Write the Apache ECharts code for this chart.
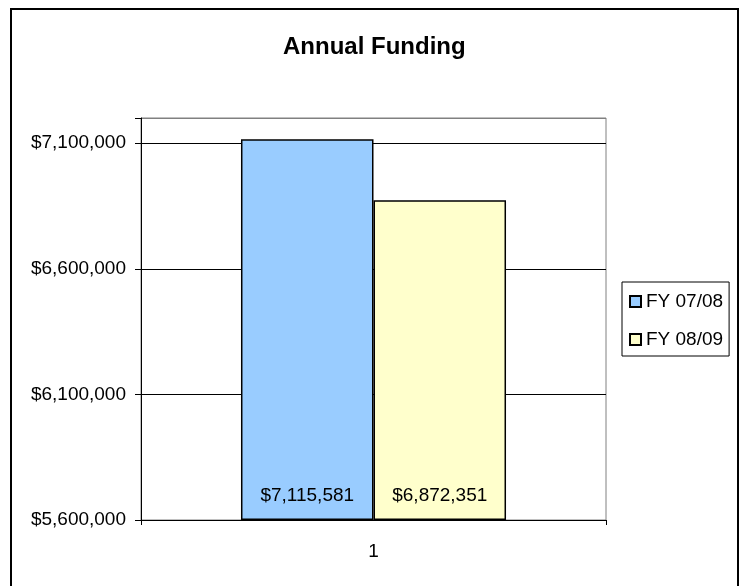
<!DOCTYPE html>
<html>
<head>
<meta charset="utf-8">
<script src="https://cdn.jsdelivr.net/npm/echarts@6/dist/echarts.min.js"></script>
<style>
html,body{margin:0;padding:0;background:#fff;}
#chart{width:742px;height:586px;}
</style>
</head>
<body>
<div id="chart"></div>
<script>
var titleText = 'Annual Funding';
var categories = ['1'];
var seriesNames = ['FY 07/08', 'FY 08/09'];
var fy0708 = [7115581];
var fy0809 = [6872351];
var yMin = 5600000;
var yMax = 7200000;
var yStep = 500000;

var FONT = '"Liberation Sans", Arial, sans-serif';
function money(v){ return '$' + Math.round(v).toLocaleString('en-US'); }

var chart = echarts.init(document.getElementById('chart'), null, {renderer:'canvas'});
chart.setOption({
  backgroundColor: '#ffffff',
  animation: false,
  title: {
    text: titleText,
    left: 283, top: 35, padding: 0,
    textStyle: {fontFamily: FONT, fontSize: 24, fontWeight: 'bold', color: '#000'}
  },
  graphic: [{
    type: 'rect',
    shape: {x: 11, y: 9, width: 727, height: 600},
    style: {fill: 'none', stroke: '#000', lineWidth: 2},
    silent: true
  }],
  legend: {
    orient: 'vertical',
    left: 622, top: 282,
    itemWidth: 11, itemHeight: 11, itemGap: 19,
    padding: [10, 6, 7, 7],
    borderColor: '#000', borderWidth: 1,
    icon: 'rect',
    data: seriesNames,
    textStyle: {fontFamily: FONT, fontSize: 19, color: '#000'}
  },
  grid: {
    left: 141, top: 118, right: 136, bottom: 66,
    show: true, borderColor: '#808080', borderWidth: 1, backgroundColor: 'transparent'
  },
  xAxis: {
    type: 'category',
    data: categories,
    axisLine: {lineStyle: {color: '#000', width: 1}},
    axisTick: {show: true, length: 5, lineStyle: {color: '#000'}},
    axisLabel: {fontFamily: FONT, fontSize: 19, color: '#000', margin: 22},
    splitLine: {show: false},
    z: 5
  },
  yAxis: {
    type: 'value',
    min: yMin, max: yMax, interval: yStep,
    startValue: yMin,
    axisLine: {show: true, lineStyle: {color: '#000', width: 1}},
    axisTick: {show: true, length: 6, lineStyle: {color: '#000'}},
    axisLabel: {
      fontFamily: FONT, fontSize: 19, color: '#000', margin: 15,
      formatter: function(v){ return ((v - yMin) % yStep === 0) ? money(v) : ''; }
    },
    splitLine: {show: true, lineStyle: {color: ['#000','#000','#000','#000','#808080'], width: 1}}
  },
  series: [
    {
      name: seriesNames[0], type: 'bar', data: fy0708,
      barGap: '0%', barCategoryGap: '43%', clip: true,
      itemStyle: {color: '#99CCFF', borderColor: '#000', borderWidth: 1.5},
      label: {show: true, position: 'insideBottom', distance: 15, fontFamily: FONT, fontSize: 19, color: '#000',
        formatter: function(p){ return money(p.value); }}
    },
    {
      name: seriesNames[1], type: 'bar', data: fy0809,
      barGap: '0%', barCategoryGap: '43%', clip: true,
      itemStyle: {color: '#FFFFCC', borderColor: '#000', borderWidth: 1.5},
      label: {show: true, position: 'insideBottom', distance: 15, fontFamily: FONT, fontSize: 19, color: '#000',
        formatter: function(p){ return money(p.value); }}
    }
  ]
});
</script>
</body>
</html>
